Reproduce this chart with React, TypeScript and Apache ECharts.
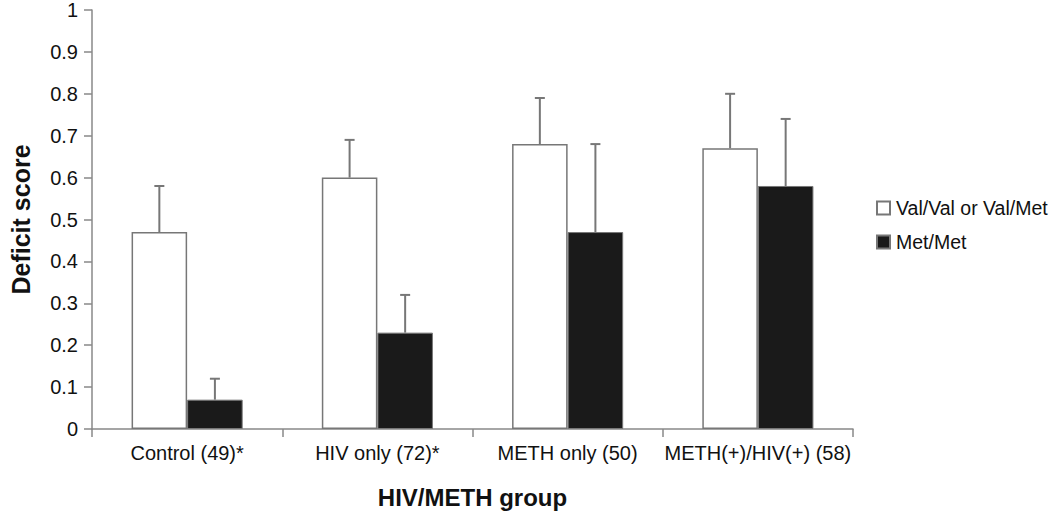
import React, { useEffect, useRef } from "react";
import * as echarts from "echarts";

const categories = ["Control (49)*", "HIV only (72)*", "METH only (50)", "METH(+)/HIV(+) (58)"];
const seriesNames = ["Val/Val or Val/Met", "Met/Met"];
const valValues = [0.47, 0.6, 0.68, 0.67];
const valErrTop = [0.58, 0.69, 0.79, 0.8];
const metValues = [0.07, 0.23, 0.47, 0.58];
const metErrTop = [0.12, 0.32, 0.68, 0.74];
const yTicks = [0, 0.1, 0.2, 0.3, 0.4, 0.5, 0.6, 0.7, 0.8, 0.9, 1];

const FONT = "'Liberation Sans', Arial, sans-serif";
const GAP = 0.416;

function errSeries(name: string, values: number[], tops: number[], side: number) {
  return {
    type: "custom",
    name: name + " err",
    z: 1,
    silent: true,
    data: values.map((v, i) => [i, v, tops[i]]),
    renderItem: (params: any, api: any) => {
      const idx = api.value(0);
      const band = api.size([1, 0])[0];
      const barW = (band * (1 - GAP)) / 2;
      const base = api.coord([idx, api.value(1)]);
      const top = api.coord([idx, api.value(2)]);
      const x = base[0] + (side * barW) / 2;
      const style = { stroke: "#777", lineWidth: 2 };
      return {
        type: "group",
        children: [
          { type: "line", shape: { x1: x, y1: base[1], x2: x, y2: top[1] }, style },
          { type: "line", shape: { x1: x - 5, y1: top[1], x2: x + 5, y2: top[1] }, style },
        ],
      };
    },
  };
}

export default function App() {
  const ref = useRef<HTMLDivElement>(null);
  useEffect(() => {
    const chart = echarts.init(ref.current!, null, { renderer: "svg" });
    chart.setOption({
      animation: false,
      backgroundColor: "#fff",
      grid: { left: 85, right: 197, top: 8, bottom: 87 },
      legend: {
        orient: "vertical",
        left: 871,
        top: 193,
        data: seriesNames,
        icon: "rect",
        itemWidth: 13,
        itemHeight: 13,
        itemGap: 14,
        textStyle: { fontFamily: FONT, fontSize: 19.5, lineHeight: 20, color: "#111", padding: [0, 0, 0, 1] },
      },
      xAxis: {
        type: "category",
        data: categories,
        name: "HIV/METH group",
        nameLocation: "middle",
        nameGap: 56,
        nameTextStyle: { fontFamily: FONT, fontSize: 24, fontWeight: "bold", color: "#111" },
        axisLine: { lineStyle: { color: "#888", width: 1.5 } },
        axisTick: { show: true, length: 8, alignWithLabel: false, lineStyle: { color: "#888", width: 1.5 } },
        axisLabel: { fontFamily: FONT, fontSize: 20, color: "#111", margin: 14, interval: 0 },
        splitLine: { show: false },
      },
      yAxis: {
        type: "value",
        min: 0,
        max: 1,
        interval: 0.1,
        name: "Deficit score",
        nameLocation: "middle",
        nameGap: 59,
        nameTextStyle: { fontFamily: FONT, fontSize: 25, fontWeight: "bold", color: "#111" },
        axisLine: { show: true, lineStyle: { color: "#888", width: 1.5 } },
        axisTick: { show: true, length: 8, lineStyle: { color: "#888", width: 1.5 } },
        axisLabel: {
          fontFamily: FONT,
          fontSize: 20,
          color: "#111",
          margin: 14,
          formatter: (v: number) => {
            const t = yTicks.find((x) => Math.abs(x - v) < 1e-6);
            return t === undefined ? "" : String(t);
          },
        },
        splitLine: { show: false },
      },
      series: [
        {
          type: "bar",
          name: seriesNames[0],
          data: valValues,
          barGap: "0%",
          barCategoryGap: GAP * 100 + "%",
          itemStyle: { color: "#ffffff", borderColor: "#777", borderWidth: 1.5 },
          z: 2,
        },
        {
          type: "bar",
          name: seriesNames[1],
          data: metValues,
          itemStyle: { color: "#1a1a1a", borderColor: "#777", borderWidth: 1 },
          z: 2,
        },
        errSeries(seriesNames[0], valValues, valErrTop, -1),
        errSeries(seriesNames[1], metValues, metErrTop, 1),
      ],
    } as any);
    return () => chart.dispose();
  }, []);
  return <div ref={ref} style={{ width: 1050, height: 516, position: "absolute", left: 0, top: 0 }} />;
}
